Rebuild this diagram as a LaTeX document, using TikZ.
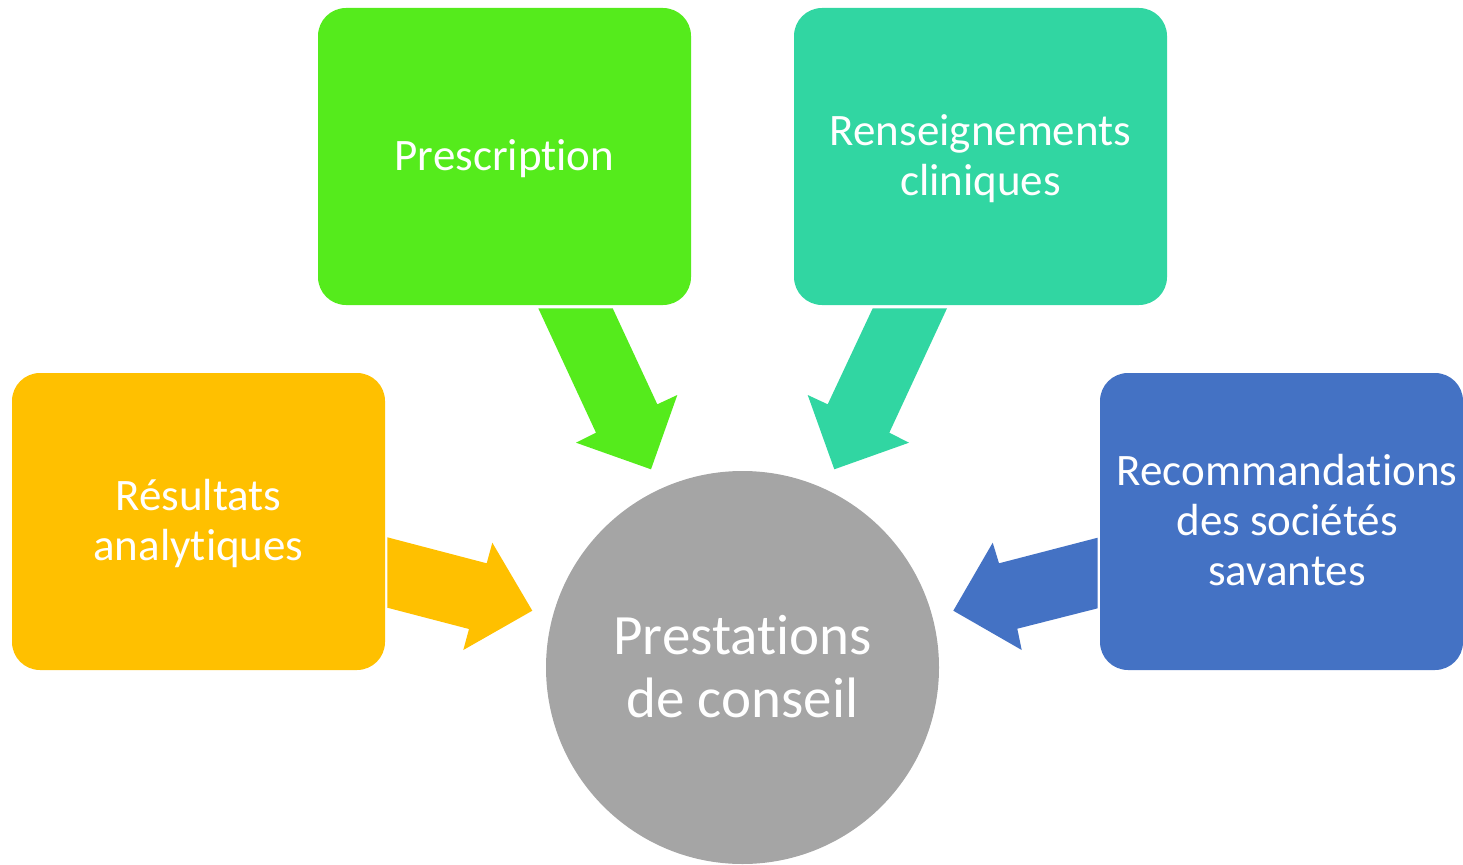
\documentclass[tikz,border=0pt]{standalone}
\usepackage{fontspec}
\setmainfont{Carlito}[Ligatures=NoCommon]
\begin{document}
\definecolor{cGreen}{RGB}{85,235,28}
\definecolor{cTeal}{RGB}{49,214,162}
\definecolor{cOrange}{RGB}{255,192,0}
\definecolor{cBlue}{RGB}{68,114,196}
\definecolor{cGray}{RGB}{165,165,165}
\begin{tikzpicture}[x=1pt,y=-1pt,
  card/.style={fill=#1, draw=none, rounded corners=28pt},
  cardtext/.style={text=white, align=center, inner sep=0pt,
    font=\fontsize{45}{50}\selectfont},
  hubtext/.style={text=white, align=center, inner sep=0pt,
    font=\fontsize{57}{63}\selectfont},
  blockarrow/.style={fill=#1, draw=none}]
\useasboundingbox (0,0) rectangle (1463,864);

% input cards
\fill[card=cGreen]  (318,8)    rectangle (691,305);
\fill[card=cTeal]   (794,8)    rectangle (1167,305);
\fill[card=cOrange] (12,373)   rectangle (385,670);
\fill[card=cBlue]   (1100,373) rectangle (1463,670);

\node[cardtext] (presc) at (504.5,159) {Prescription};
\node[cardtext] (rens)  at (980.5,159) {Renseignements\\cliniques};
\node[cardtext] (res)   at (198.5,523) {Résultats\\analytiques};
\node[cardtext] (reco)  at (1287,520)  {Recommandations\\des sociétés\\savantes};

% central hub
\fill[cGray] (742.5,667.5) circle[radius=196.5];
\node[hubtext] (hub) at (742.5,666.5) {Prestations\\de conseil};

% block arrows pointing to the hub
\fill[blockarrow=cOrange] (387.3,537.3) -- (486.7,563.3) -- (492.3,542.7)
  -- (532.3,610.7) -- (463.3,650) -- (469,629) -- (387.3,607.7) -- cycle;
\fill[blockarrow=cGreen] (538.3,308.3) -- (612.7,308.3) -- (657.3,404.3)
  -- (677.3,395) -- (651,469.3) -- (576,442.7) -- (596,432.7) -- cycle;
\fill[blockarrow=cTeal] (947,308.3) -- (872.7,308.3) -- (827.7,404.3)
  -- (807.7,395) -- (834.3,469.3) -- (909,442.7) -- (889.3,432.7) -- cycle;
\fill[blockarrow=cBlue] (1097.7,537.7) -- (999,563.3) -- (992.7,542.7)
  -- (953.3,610.7) -- (1021.7,650) -- (1017.3,628.7) -- (1097.7,608.3) -- cycle;
\end{tikzpicture}
\end{document}
